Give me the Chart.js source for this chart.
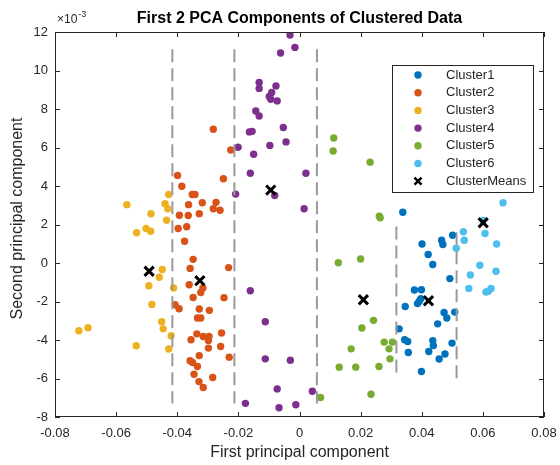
<!DOCTYPE html>
<html>
<head>
<meta charset="utf-8">
<script src="https://cdn.jsdelivr.net/npm/chart.js@4/dist/chart.umd.min.js"></script>
<style>
  html, body { margin: 0; padding: 0; background: #fff; }
  canvas { display: block; }
</style>
</head>
<body>
<canvas id="c" width="560" height="465"></canvas>
<script>
// y values are in units of 1e-3 (axis shows the x10^-3 multiplier)
const cluster1 = [[0.0338,2.64],[0.0501,1.44],[0.0465,1.18],[0.0469,0.96],[0.0401,0.99],[0.0421,0.44],[0.0436,-0.08],
  [0.0492,-0.81],[0.0376,-1.40],[0.0399,-1.39],[0.0386,-2.11],[0.0392,-1.99],[0.0397,-1.85],[0.0346,-2.26],[0.0473,-2.57],
  [0.0482,-2.86],[0.0508,-2.55],[0.0452,-3.16],[0.0326,-3.42],[0.0344,-3.99],[0.0354,-4.08],[0.0436,-4.03],[0.0438,-4.29],
  [0.0499,-4.16],[0.0356,-4.65],[0.0423,-4.60],[0.0476,-4.73],[0.0457,-4.99],[0.0399,-5.64]];
const cluster2 = [[-0.0282,6.95],[-0.0225,5.87],[-0.0399,4.55],[-0.0249,4.38],[-0.0385,3.99],[-0.0351,3.56],[-0.0342,3.56],
  [-0.0318,3.13],[-0.0363,3.03],[-0.0273,3.15],[-0.0282,2.82],[-0.0260,2.74],[-0.0393,2.48],[-0.0364,2.47],[-0.0328,2.56],
  [-0.0397,1.79],[-0.0369,1.88],[-0.0376,1.13],[-0.0348,0.19],[-0.0358,-0.28],[-0.0232,-0.24],[-0.0361,-1.13],[-0.0323,-1.53],
  [-0.0316,-1.30],[-0.0348,-1.79],[-0.0247,-1.80],[-0.0407,-2.17],[-0.0394,-2.38],[-0.0328,-2.39],[-0.0295,-2.46],
  [-0.0334,-2.86],[-0.0323,-2.86],[-0.0336,-3.68],[-0.0355,-3.99],[-0.0315,-3.82],[-0.0296,-3.82],[-0.0298,-4.03],
  [-0.0255,-3.64],[-0.0298,-4.42],[-0.0258,-4.34],[-0.0328,-4.81],[-0.0230,-4.89],[-0.0358,-5.08],[-0.0350,-5.17],
  [-0.0334,-5.38],[-0.0345,-5.78],[-0.0284,-5.95],[-0.0329,-6.16],[-0.0315,-6.47]];
const cluster3 = [[-0.0565,3.03],[-0.0486,2.56],[-0.0533,1.57],[-0.0502,1.79],[-0.0487,1.65],[-0.0428,3.56],[-0.0440,3.08],
  [-0.0431,2.82],[-0.0435,2.22],[-0.0449,-0.34],[-0.0459,-0.74],[-0.0493,-1.18],[-0.0412,-1.30],[-0.0483,-2.15],
  [-0.0451,-3.05],[-0.0446,-3.42],[-0.0420,-3.78],[-0.0722,-3.52],[-0.0692,-3.36],[-0.0534,-4.30],[-0.0428,-4.47]];
const cluster4 = [[-0.0031,11.84],[-0.0015,11.20],[-0.0062,10.91],[-0.0132,9.38],[-0.0132,9.07],[-0.0077,9.20],[-0.0091,8.86],
  [-0.0099,8.65],[-0.0094,8.51],[-0.0073,8.42],[-0.0143,7.90],[-0.0132,7.64],[-0.0053,7.04],[-0.0164,6.81],[-0.0155,6.84],
  [-0.0044,6.29],[-0.0097,6.11],[-0.0201,6.01],[-0.0150,5.65],[-0.0161,4.66],[0.0021,4.66],[-0.0209,3.58],[-0.0081,3.51],
  [0.0015,2.82],[-0.0161,-1.44],[-0.0112,-3.05],[-0.0112,-4.98],[-0.0030,-5.05],[-0.0073,-6.54],[0.0042,-6.66],
  [-0.0177,-7.29],[-0.0067,-7.52],[-0.0012,-7.36]];
const cluster5 = [[0.0112,6.49],[0.0110,5.82],[0.0231,5.24],[0.0261,2.43],[0.0264,2.35],[0.0127,0.01],[0.0200,0.21],
  [0.0242,-2.98],[0.0204,-3.38],[0.0277,-4.11],[0.0304,-4.11],[0.0169,-4.46],[0.0293,-4.46],[0.0296,-4.98],[0.0130,-5.41],
  [0.0184,-5.41],[0.0260,-5.38],[0.0069,-6.99],[0.0234,-6.82]];
const cluster6 = [[0.0666,3.13],[0.0536,1.62],[0.0539,1.18],[0.0607,1.53],[0.0601,2.21],[0.0645,0.99],[0.0513,0.77],
  [0.0590,-0.12],[0.0559,-0.62],[0.0643,-0.43],[0.0554,-1.32],[0.0627,-1.32],[0.0618,-1.47],[0.0610,-1.51]];
const meanX = [0.0422, -0.0326, -0.0492, -0.0094, 0.0209, 0.0601];
const meanY = [-1.96, -0.92, -0.43, 3.79, -1.91, 2.09];

const dividerX = [-0.0416, -0.0213, 0.0057, 0.0317, 0.0514];
const dividerTop = [11.1, 11.1, 11.1, 1.9, 1.6];
const dividerBottom = [-7.3, -7.3, -7.3, -6.0, -6.0];

const xTicks = [-0.08, -0.06, -0.04, -0.02, 0, 0.02, 0.04, 0.06, 0.08];
const yTicks = [-8, -6, -4, -2, 0, 2, 4, 6, 8, 10, 12];

const clusterNames = ['Cluster1', 'Cluster2', 'Cluster3', 'Cluster4', 'Cluster5', 'Cluster6'];
const clusterColors = ['#0072BD', '#D95319', '#EDB120', '#7E2F8E', '#77AC30', '#4DBEEE'];
const clusters = [cluster1, cluster2, cluster3, cluster4, cluster5, cluster6];

const FONT = "'Liberation Sans', Arial, Helvetica, sans-serif";
const INK = '#262626';

const datasets = clusters.map((pts, i) => ({
  label: clusterNames[i],
  data: pts.map(p => ({x: p[0], y: p[1]})),
  backgroundColor: clusterColors[i],
  borderColor: clusterColors[i],
  borderWidth: 0,
  pointRadius: 3.7,
  order: 2
}));
datasets.push({
  label: 'ClusterMeans',
  data: meanX.map((x, i) => ({x, y: meanY[i]})),
  pointStyle: 'crossRot',
  pointRadius: 6.5,
  borderWidth: 3,
  borderColor: '#000',
  backgroundColor: '#000',
  order: 0
});
dividerX.forEach((x, i) => {
  datasets.push({
    type: 'line',
    label: 'divider' + i,
    data: [{x, y: dividerTop[i]}, {x, y: dividerBottom[i]}],
    borderColor: '#9a9a9a',
    borderWidth: 2,
    borderDash: [13, 6],
    pointRadius: 0,
    showLine: true,
    order: 1
  });
});

const decor = {
  id: 'decor',
  afterDraw(chart) {
    const {ctx, chartArea: a, scales: {x, y}} = chart;
    ctx.save();
    // axes box
    ctx.strokeStyle = INK;
    ctx.lineWidth = 1;
    ctx.strokeRect(a.left + 0.5, a.top + 0.5, a.right - a.left - 1, a.bottom - a.top - 1);
    // inward ticks on all sides
    ctx.beginPath();
    xTicks.forEach(v => {
      const px = Math.round(x.getPixelForValue(v)) + 0.5;
      ctx.moveTo(px, a.bottom); ctx.lineTo(px, a.bottom - 5);
      ctx.moveTo(px, a.top); ctx.lineTo(px, a.top + 5);
    });
    yTicks.forEach(v => {
      const py = Math.round(y.getPixelForValue(v)) + 0.5;
      ctx.moveTo(a.left, py); ctx.lineTo(a.left + 5, py);
      ctx.moveTo(a.right, py); ctx.lineTo(a.right - 5, py);
    });
    ctx.stroke();

    // title
    ctx.fillStyle = '#000';
    ctx.textAlign = 'center';
    ctx.textBaseline = 'middle';
    ctx.font = 'bold 16px ' + FONT;
    ctx.fillText('First 2 PCA Components of Clustered Data', (a.left + a.right) / 2, 18.5);

    // exponent label
    ctx.fillStyle = INK;
    ctx.textAlign = 'left';
    ctx.textBaseline = 'alphabetic';
    ctx.font = '12px ' + FONT;
    ctx.fillText('\u00d710', a.left + 2, 23);
    const w = ctx.measureText('\u00d710').width;
    ctx.font = '9px ' + FONT;
    ctx.fillText('-3', a.left + 2 + w + 1, 17);

    // axis titles
    ctx.font = '16px ' + FONT;
    ctx.textAlign = 'center';
    ctx.textBaseline = 'middle';
    ctx.fillText('First principal component', (a.left + a.right) / 2, 453);
    ctx.save();
    ctx.translate(18, (a.top + a.bottom) / 2 - 6);
    ctx.rotate(-Math.PI / 2);
    ctx.fillText('Second principal component', 0, 0);
    ctx.restore();

    // legend
    const lx = 392, ly = 65, lw = 141, lh = 127;
    ctx.fillStyle = '#fff';
    ctx.fillRect(lx, ly, lw, lh);
    ctx.strokeStyle = INK;
    ctx.strokeRect(lx + 0.5, ly + 0.5, lw, lh);
    ctx.font = '13px ' + FONT;
    ctx.textAlign = 'left';
    const names = clusterNames.concat(['ClusterMeans']);
    names.forEach((n, i) => {
      const ry = ly + 10 + i * 17.7;
      if (i < 6) {
        ctx.fillStyle = clusterColors[i];
        ctx.beginPath();
        ctx.arc(lx + 26, ry, 3.7, 0, Math.PI * 2);
        ctx.fill();
      } else {
        ctx.strokeStyle = '#000';
        ctx.lineWidth = 2.5;
        ctx.beginPath();
        ctx.moveTo(lx + 22.5, ry - 3.5); ctx.lineTo(lx + 29.5, ry + 3.5);
        ctx.moveTo(lx + 29.5, ry - 3.5); ctx.lineTo(lx + 22.5, ry + 3.5);
        ctx.stroke();
      }
      ctx.fillStyle = INK;
      ctx.fillText(n, lx + 54, ry);
    });
    ctx.restore();
  }
};

new Chart(document.getElementById('c'), {
  type: 'scatter',
  data: {datasets},
  options: {
    responsive: false,
    animation: false,
    devicePixelRatio: 1,
    layout: {padding: {left: 0, top: 32, right: 16, bottom: 0}},
    plugins: {legend: {display: false}, tooltip: {enabled: false}, title: {display: false}},
    scales: {
      x: {
        type: 'linear', min: -0.08, max: 0.08,
        afterBuildTicks: s => { s.ticks = xTicks.map(v => ({value: v})); },
        afterFit: s => { s.height = 48; s.paddingLeft = 0; s.paddingRight = 0; },
        grid: {display: false, drawTicks: false},
        border: {display: false},
        ticks: {padding: 9, color: INK, font: {family: FONT, size: 13},
          callback: v => String(Number(v.toFixed(2)))}
      },
      y: {
        type: 'linear', min: -8, max: 12,
        afterBuildTicks: s => { s.ticks = yTicks.map(v => ({value: v})); },
        afterFit: s => { s.width = 55; s.paddingTop = 0; s.paddingBottom = 0; },
        grid: {display: false, drawTicks: false},
        border: {display: false},
        ticks: {padding: 7, color: INK, font: {family: FONT, size: 13}}
      }
    }
  },
  plugins: [decor]
});
</script>
</body>
</html>
